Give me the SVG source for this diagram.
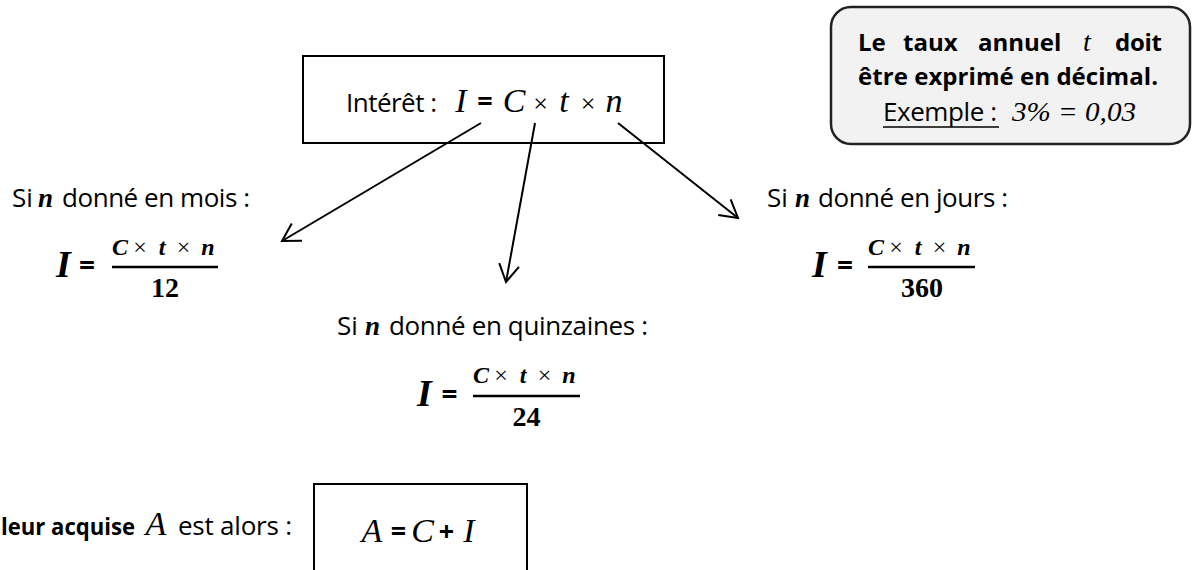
<svg xmlns="http://www.w3.org/2000/svg" width="1192" height="570" viewBox="0 0 1192 570">
<style>
.sans{font-family:"Open Sans","Noto Sans",sans-serif;font-size:26px;fill:#000}
.sb{font-family:"Open Sans","Noto Sans",sans-serif;font-size:24px;font-weight:bold;fill:#000}
.eq{font-family:"Open Sans","Noto Sans",sans-serif;font-weight:bold;fill:#000;text-anchor:middle}
.mi{font-family:"Liberation Serif","DejaVu Serif",serif;font-style:italic;fill:#000;text-anchor:middle}
.mbi{font-family:"Liberation Serif","DejaVu Serif",serif;font-style:italic;font-weight:bold;fill:#000;text-anchor:middle}
.mb{font-family:"Liberation Serif","DejaVu Serif",serif;font-weight:bold;fill:#000;text-anchor:middle}
.mr{font-family:"Liberation Serif","DejaVu Serif",serif;fill:#000;text-anchor:middle}
.box{fill:#fff;stroke:#000;stroke-width:2}
.bar{stroke:#000;stroke-width:2.5}
.conn{stroke:#000;stroke-width:2;fill:none}
</style>
<defs>
<marker id="arr" markerUnits="userSpaceOnUse" markerWidth="40" markerHeight="40" viewBox="-20 -20 40 40" refX="0" refY="0" orient="auto">
<path d="M -17.3 -10 L 0 0 L -17.3 10" fill="none" stroke="#000" stroke-width="2" stroke-linejoin="miter"/>
</marker>
</defs>
<rect width="1192" height="570" fill="#fff"/>

<g id="interet">
<rect class="box" x="303" y="56" width="361" height="87"/>
<text class="sans" x="346" y="112" textLength="91">Intérêt :</text>
<text class="mi" x="461" y="112" font-size="34">I</text>
<text class="eq" x="485" y="111" font-size="27">=</text>
<text class="mi" x="514" y="112" font-size="34">C</text>
<text class="mr" x="540.5" y="112" font-size="26">×</text>
<text class="mi" x="564" y="112" font-size="34">t</text>
<text class="mr" x="588" y="112" font-size="26">×</text>
<text class="mi" x="614" y="112" font-size="34">n</text>
</g>

<g id="note">
<rect x="831" y="7" width="359" height="137" rx="20" ry="20" fill="#f2f2f2" stroke="#222" stroke-width="2.5"/>
<text class="sb" x="858" y="51">Le</text>
<text class="sb" x="903" y="51">taux</text>
<text class="sb" x="978" y="51">annuel</text>
<text class="mi" x="1087" y="51" font-size="28">t</text>
<text class="sb" x="1115" y="51" textLength="47">doit</text>
<text class="sb" x="858" y="85" textLength="300">être exprimé en décimal.</text>
<text class="sans" x="883" y="121" font-size="25" textLength="114">Exemple :</text>
<line x1="883" y1="127" x2="999" y2="127" stroke="#000" stroke-width="1.5"/>
<text class="mi" x="1074" y="121" font-size="28" textLength="124" lengthAdjust="spacingAndGlyphs">3% = 0,03</text>
</g>

<g id="mois">
<text class="sans" x="12" y="207">Si</text>
<text class="mbi" x="45.5" y="207" font-size="27">n</text>
<text class="sans" x="62" y="207" textLength="188">donné en mois :</text>
<text class="mbi" x="63.5" y="277" font-size="38">I</text>
<text class="eq" x="87" y="275" font-size="28">=</text>
<line class="bar" x1="112" y1="267" x2="218" y2="267"/>
<text class="mbi" x="120" y="255" font-size="24">C</text>
<text class="mr" x="140" y="255" font-size="24">×</text>
<text class="mbi" x="162" y="255" font-size="24">t</text>
<text class="mr" x="183.5" y="255" font-size="24">×</text>
<text class="mbi" x="208" y="255" font-size="24">n</text>
<text class="mb" x="165" y="297" font-size="28">12</text>
</g>

<g id="jours">
<text class="sans" x="767" y="207">Si</text>
<text class="mbi" x="802.5" y="207" font-size="27">n</text>
<text class="sans" x="818" y="207" textLength="190">donné en jours :</text>
<text class="mbi" x="819.5" y="277" font-size="38">I</text>
<text class="eq" x="845" y="275" font-size="28">=</text>
<line class="bar" x1="868" y1="267" x2="975" y2="267"/>
<text class="mbi" x="876" y="255" font-size="24">C</text>
<text class="mr" x="896" y="255" font-size="24">×</text>
<text class="mbi" x="918" y="255" font-size="24">t</text>
<text class="mr" x="939.5" y="255" font-size="24">×</text>
<text class="mbi" x="964" y="255" font-size="24">n</text>
<text class="mb" x="922" y="297" font-size="28">360</text>
</g>

<g id="quinzaines">
<text class="sans" x="337" y="335">Si</text>
<text class="mbi" x="372.5" y="335" font-size="27">n</text>
<text class="sans" x="389" y="335" textLength="259">donné en quinzaines :</text>
<text class="mbi" x="424.5" y="406" font-size="38">I</text>
<text class="eq" x="449.5" y="404" font-size="28">=</text>
<line class="bar" x1="473" y1="396" x2="580" y2="396"/>
<text class="mbi" x="481" y="383" font-size="24">C</text>
<text class="mr" x="501" y="383" font-size="24">×</text>
<text class="mbi" x="523" y="383" font-size="24">t</text>
<text class="mr" x="544.5" y="383" font-size="24">×</text>
<text class="mbi" x="569" y="383" font-size="24">n</text>
<text class="mb" x="526.5" y="426" font-size="28">24</text>
</g>

<g id="valeur">
<text class="sb" x="1" y="535" textLength="134" lengthAdjust="spacingAndGlyphs">leur acquise</text>
<text class="mi" x="156" y="535" font-size="34">A</text>
<text class="sans" x="178" y="535" textLength="114">est alors :</text>
</g>

<g id="acquise">
<rect class="box" x="314" y="484" width="213" height="100"/>
<text class="mi" x="372" y="542" font-size="34">A</text>
<text class="eq" x="398.5" y="541" font-size="27">=</text>
<text class="mi" x="422.5" y="542" font-size="34">C</text>
<text class="eq" x="446.5" y="541" font-size="27">+</text>
<text class="mi" x="469" y="542" font-size="34">I</text>
</g>

<g id="connectors">
<line class="conn" x1="481" y1="123" x2="282" y2="241" marker-end="url(#arr)"/>
<line class="conn" x1="535" y1="123" x2="506" y2="282" marker-end="url(#arr)"/>
<line class="conn" x1="618" y1="123" x2="738" y2="218" marker-end="url(#arr)"/>
</g>
</svg>
